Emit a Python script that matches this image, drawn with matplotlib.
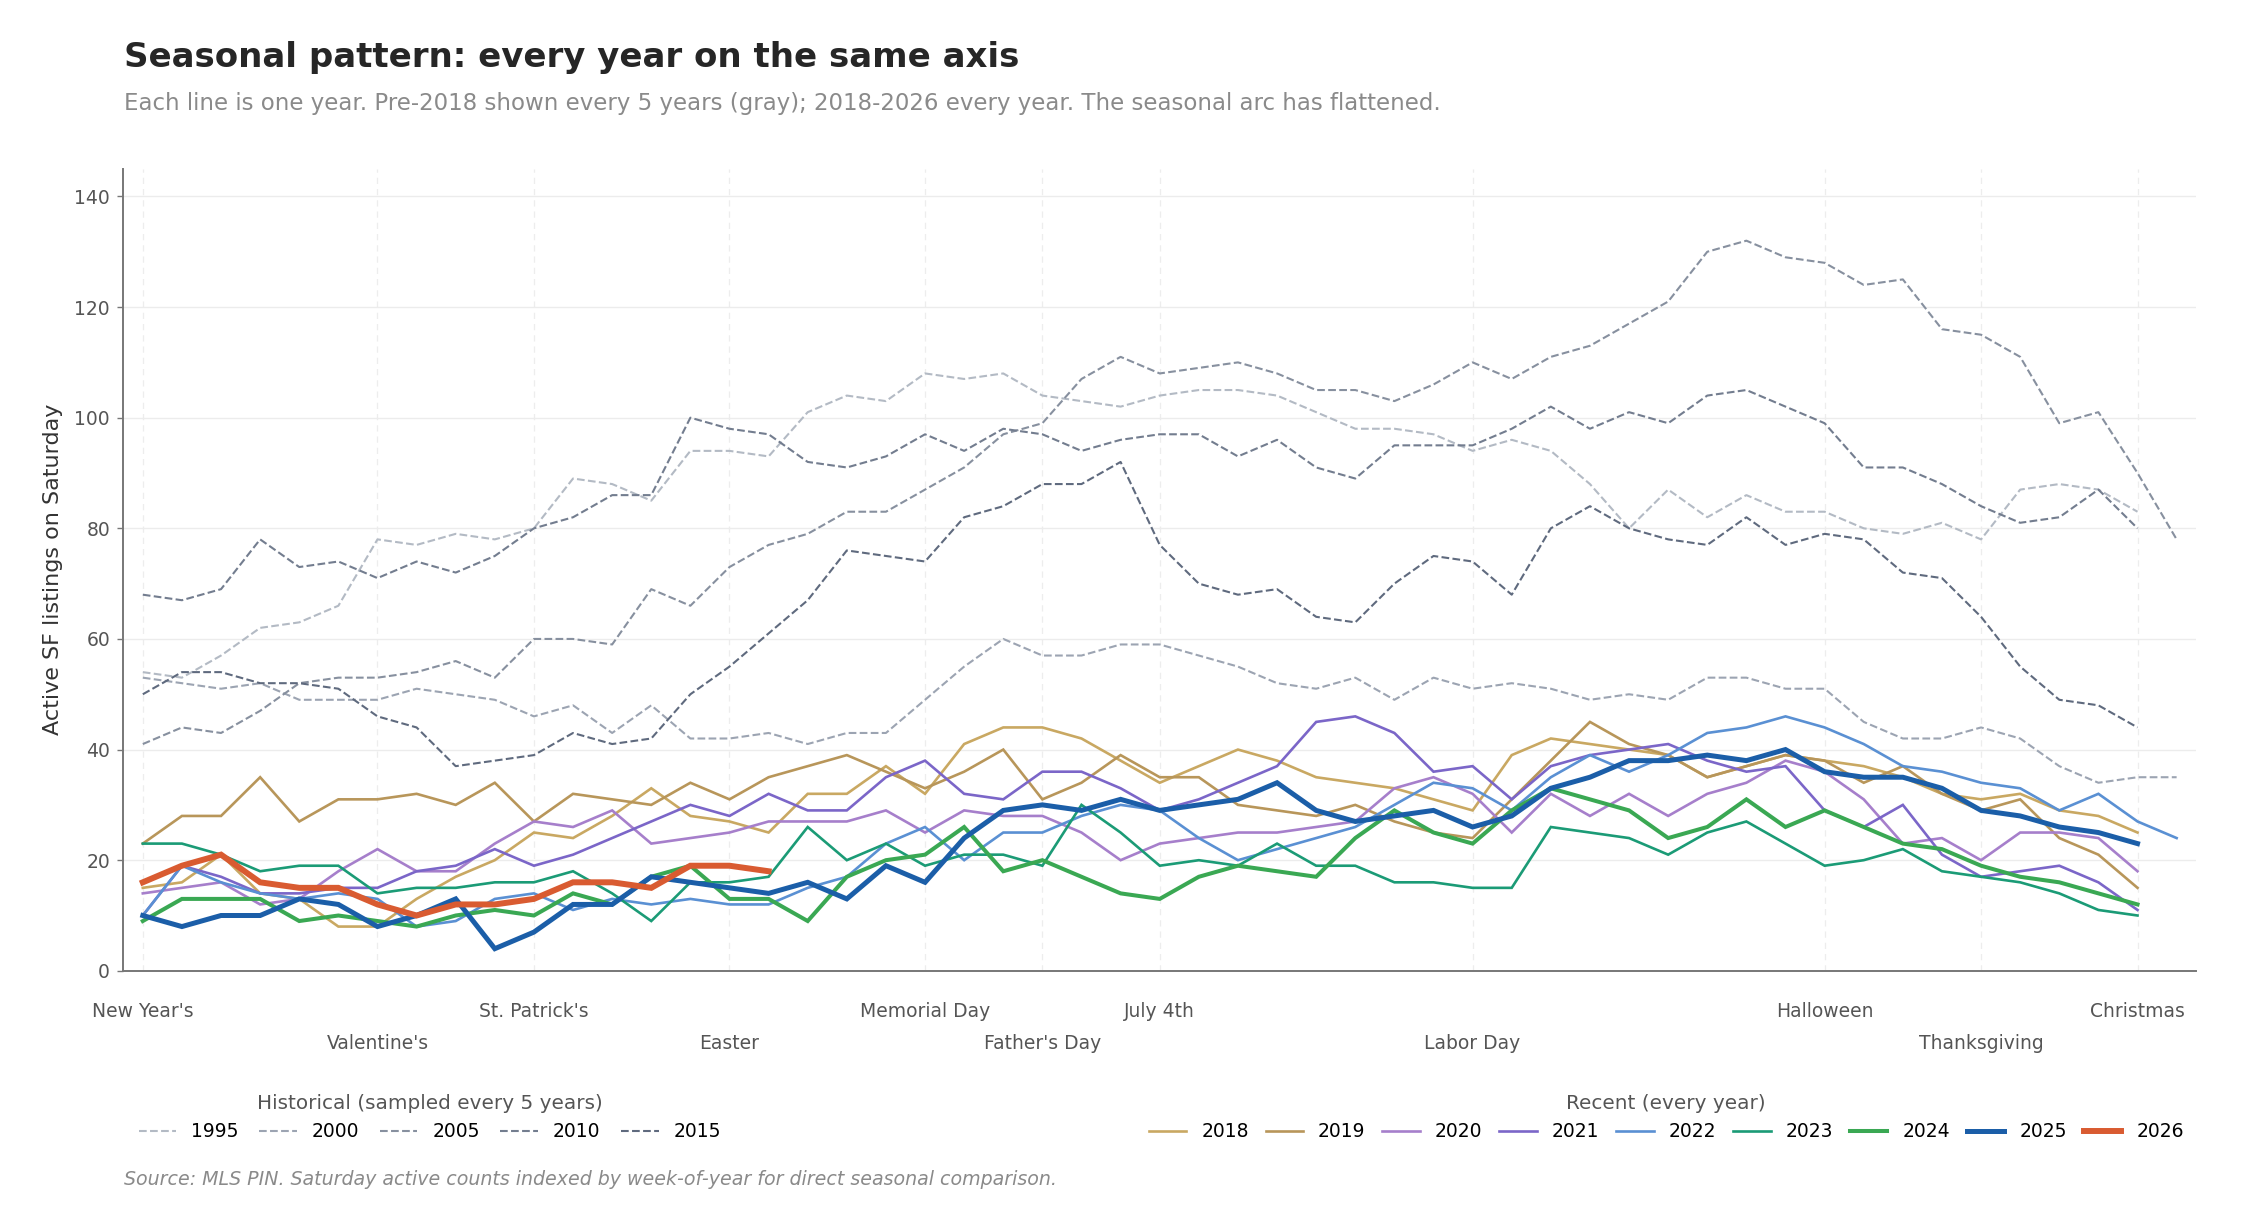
import matplotlib
matplotlib.use("Agg")
import matplotlib.pyplot as plt

# week-of-year index
weeks = list(range(1, 54))

# historical (every 5 years)
hist_years = [1995, 2000, 2005, 2010, 2015]
y1995 = [54, 53, 57, 62, 63, 66, 78, 77, 79, 78, 80, 89, 88, 85, 94, 94, 93,
         101, 104, 103, 108, 107, 108, 104, 103, 102, 104, 105, 105, 104, 101, 98, 98, 97, 94,
         96, 94, 88, 80, 87, 82, 86, 83, 83, 80, 79, 81, 78, 87, 88, 87, 83]
y2000 = [53, 52, 51, 52, 49, 49, 49, 51, 50, 49, 46, 48, 43, 48, 42, 42, 43,
         41, 43, 43, 49, 55, 60, 57, 57, 59, 59, 57, 55, 52, 51, 53, 49, 53, 51,
         52, 51, 49, 50, 49, 53, 53, 51, 51, 45, 42, 42, 44, 42, 37, 34, 35, 35]
y2005 = [41, 44, 43, 47, 52, 53, 53, 54, 56, 53, 60, 60, 59, 69, 66, 73, 77,
         79, 83, 83, 87, 91, 97, 99, 107, 111, 108, 109, 110, 108, 105, 105, 103, 106, 110,
         107, 111, 113, 117, 121, 130, 132, 129, 128, 124, 125, 116, 115, 111, 99, 101, 90, 78]
y2010 = [68, 67, 69, 78, 73, 74, 71, 74, 72, 75, 80, 82, 86, 86, 100, 98, 97,
         92, 91, 93, 97, 94, 98, 97, 94, 96, 97, 97, 93, 96, 91, 89, 95, 95, 95,
         98, 102, 98, 101, 99, 104, 105, 102, 99, 91, 91, 88, 84, 81, 82, 87, 80]
y2015 = [50, 54, 54, 52, 52, 51, 46, 44, 37, 38, 39, 43, 41, 42, 50, 55, 61,
         67, 76, 75, 74, 82, 84, 88, 88, 92, 77, 70, 68, 69, 64, 63, 70, 75, 74,
         68, 80, 84, 80, 78, 77, 82, 77, 79, 78, 72, 71, 64, 55, 49, 48, 44]
hist_values = [y1995, y2000, y2005, y2010, y2015]
hist_colors = ['#b3bac4', '#9ca4b2', '#87909f', '#737d8f', '#5f6a7e']

# recent years
recent_years = [2018, 2019, 2020, 2021, 2022, 2023, 2024, 2025, 2026]
y2018 = [15, 16, 21, 14, 13, 8, 8, 13, 17, 20, 25, 24, 28, 33, 28, 27, 25,
         32, 32, 37, 32, 41, 44, 44, 42, 38, 34, 37, 40, 38, 35, 34, 33, 31, 29,
         39, 42, 41, 40, 39, 35, 37, 39, 38, 37, 35, 32, 31, 32, 29, 28, 25]
y2019 = [23, 28, 28, 35, 27, 31, 31, 32, 30, 34, 27, 32, 31, 30, 34, 31, 35,
         37, 39, 36, 33, 36, 40, 31, 34, 39, 35, 35, 30, 29, 28, 30, 27, 25, 24,
         31, 38, 45, 41, 39, 35, 37, 39, 38, 34, 37, 32, 29, 31, 24, 21, 15]
y2020 = [14, 15, 16, 12, 13, 18, 22, 18, 18, 23, 27, 26, 29, 23, 24, 25, 27,
         27, 27, 29, 25, 29, 28, 28, 25, 20, 23, 24, 25, 25, 26, 27, 33, 35, 32,
         25, 32, 28, 32, 28, 32, 34, 38, 36, 31, 23, 24, 20, 25, 25, 24, 18]
y2021 = [10, 19, 17, 14, 14, 15, 15, 18, 19, 22, 19, 21, 24, 27, 30, 28, 32,
         29, 29, 35, 38, 32, 31, 36, 36, 33, 29, 31, 34, 37, 45, 46, 43, 36, 37,
         31, 37, 39, 40, 41, 38, 36, 37, 29, 26, 30, 21, 17, 18, 19, 16, 11]
y2022 = [10, 19, 16, 14, 13, 14, 13, 8, 9, 13, 14, 11, 13, 12, 13, 12, 12,
         15, 17, 23, 26, 20, 25, 25, 28, 30, 29, 24, 20, 22, 24, 26, 30, 34, 33,
         29, 35, 39, 36, 39, 43, 44, 46, 44, 41, 37, 36, 34, 33, 29, 32, 27, 24]
y2023 = [23, 23, 21, 18, 19, 19, 14, 15, 15, 16, 16, 18, 14, 9, 16, 16, 17,
         26, 20, 23, 19, 21, 21, 19, 30, 25, 19, 20, 19, 23, 19, 19, 16, 16, 15,
         15, 26, 25, 24, 21, 25, 27, 23, 19, 20, 22, 18, 17, 16, 14, 11, 10]
y2024 = [9, 13, 13, 13, 9, 10, 9, 8, 10, 11, 10, 14, 12, 17, 19, 13, 13,
         9, 17, 20, 21, 26, 18, 20, 17, 14, 13, 17, 19, 18, 17, 24, 29, 25, 23,
         29, 33, 31, 29, 24, 26, 31, 26, 29, 26, 23, 22, 19, 17, 16, 14, 12]
y2025 = [10, 8, 10, 10, 13, 12, 8, 10, 13, 4, 7, 12, 12, 17, 16, 15, 14,
         16, 13, 19, 16, 24, 29, 30, 29, 31, 29, 30, 31, 34, 29, 27, 28, 29, 26,
         28, 33, 35, 38, 38, 39, 38, 40, 36, 35, 35, 33, 29, 28, 26, 25, 23]
y2026 = [16, 19, 21, 16, 15, 15, 12, 10, 12, 12, 13, 16, 16, 15, 19, 19, 18]
recent_values = [y2018, y2019, y2020, y2021, y2022, y2023, y2024, y2025, y2026]
recent_colors = ['#c9a862', '#b8965a', '#a67fcb', '#7b66c8', '#5a90d3',
                 '#1b9b76', '#3aa853', '#1b5ea8', '#d95b31']
recent_widths = [1.9, 1.9, 1.9, 1.9, 1.9, 1.9, 2.9, 3.6, 4.3]

holiday_names = ["New Year's", "Valentine's", "St. Patrick's", "Easter", "Memorial Day",
                 "Father's Day", "July 4th", "Labor Day", "Halloween", "Thanksgiving",
                 "Christmas"]
holiday_weeks = [1, 7, 11, 16, 21, 24, 27, 35, 44, 48, 52]

fig = plt.figure(figsize=(22.41, 12.32), dpi=100)
ax = fig.add_axes([0.055, 0.212, 0.925, 0.651])

hist_handles = []
for yr, vals, col in zip(hist_years, hist_values, hist_colors):
    ln, = ax.plot(weeks[:len(vals)], vals, color=col, lw=1.5, ls='--', zorder=2, label=str(yr))
    hist_handles.append(ln)

rec_handles = []
for i, (yr, vals, col, lw) in enumerate(zip(recent_years, recent_values, recent_colors, recent_widths)):
    ln, = ax.plot(weeks[:len(vals)], vals, color=col, lw=lw, zorder=3 + i,
                  solid_joinstyle='miter', label=str(yr))
    rec_handles.append(ln)

ax.set_xlim(0.5, 53.5)
ax.set_ylim(0, 145)
ax.set_yticks(range(0, 141, 20))
ax.set_xticks(holiday_weeks)
labels = [n if i % 2 == 0 else "\n" + n for i, n in enumerate(holiday_names)]
ax.set_xticklabels(labels)
for t in ax.get_xticklabels():
    t.set_linespacing(1.85)

ax.tick_params(axis='x', length=0, pad=22.5, labelsize=13.5, labelcolor='#555555')
ax.tick_params(axis='y', length=4.5, width=1, color='#777777', pad=5,
               labelsize=13.5, labelcolor='#555555')

ax.grid(axis='y', color='#ececec', lw=1, zorder=0)
for w in holiday_weeks:
    ax.axvline(w, color='#ededed', lw=0.9, ls=(0, (5, 4)), zorder=0)

for s in ['top', 'right']:
    ax.spines[s].set_visible(False)
for s in ['left', 'bottom']:
    ax.spines[s].set_color('#777777')
    ax.spines[s].set_linewidth(1.4)

ax.set_ylabel('Active SF listings on Saturday', fontsize=16, color='#333333', labelpad=8)

fig.text(0.0555, 0.953, 'Seasonal pattern: every year on the same axis',
         fontsize=24.5, fontweight='bold', color='#262626', va='center')
fig.text(0.0555, 0.9156, 'Each line is one year. Pre-2018 shown every 5 years (gray); '
         '2018-2026 every year. The seasonal arc has flattened.',
         fontsize=16.5, color='#8a8a8a', va='center')
fig.text(0.0555, 0.043, 'Source: MLS PIN. Saturday active counts indexed by week-of-year '
         'for direct seasonal comparison.',
         fontsize=13.7, color='#8a8a8a', style='italic', va='center')

leg1 = fig.legend(handles=hist_handles, loc='center left', bbox_to_anchor=(0.0543, 0.093),
                  ncol=5, frameon=False, fontsize=13.5, title='Historical (sampled every 5 years)',
                  title_fontsize=14.4, columnspacing=1.1, handletextpad=0.8, handlelength=2.0)
leg1.get_title().set_color('#555555')
leg2 = fig.legend(handles=rec_handles, loc='center right', bbox_to_anchor=(0.982, 0.093),
                  ncol=9, frameon=False, fontsize=13.5, title='Recent (every year)',
                  title_fontsize=14.4, columnspacing=0.9, handletextpad=0.8, handlelength=2.0)
leg2.get_title().set_color('#555555')

fig.savefig('out.png', dpi=100)
